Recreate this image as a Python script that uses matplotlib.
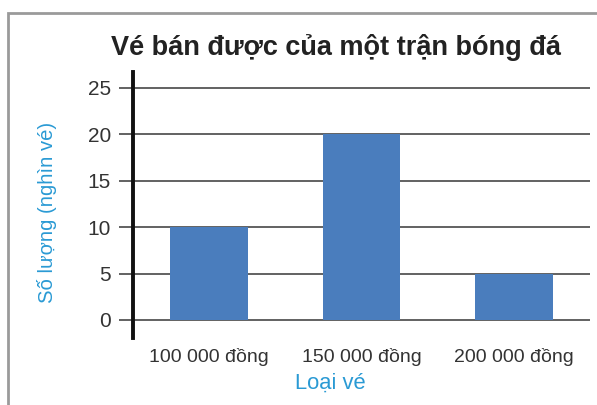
import matplotlib
matplotlib.use("Agg")
import matplotlib.pyplot as plt
from matplotlib.patches import Rectangle

categories = ["100 000 đồng", "150 000 đồng", "200 000 đồng"]
values = [10, 20, 5]
yticks = [0, 5, 10, 15, 20, 25]

plt.rcParams["font.family"] = ["Liberation Sans", "DejaVu Sans"]

W, H = 597, 405
fig = plt.figure(figsize=(W / 100, H / 100), dpi=100)
fig.patch.set_facecolor("white")

# outer frame (open at the right and bottom edges)
fig.add_artist(Rectangle((8 / W, -0.05), 1.2, 1 - 13 / H + 0.05,
                         transform=fig.transFigure, fill=False,
                         edgecolor="#9a9a9a", linewidth=2.0))

left, right, top, bottom = 133, 590, 72, 338
ax = fig.add_axes([left / W, 1 - bottom / H, (right - left) / W, (bottom - top) / H])
x = list(range(len(categories)))
ax.bar(x, values, width=0.51, color="#4a7dbd", zorder=3)

ax.set_xlim(-0.5, 2.5)
ax.set_ylim(-1.94, 26.72)
ax.set_yticks(yticks)
ax.set_yticklabels([str(t) for t in yticks], fontsize=15, color="#333333")
for t in yticks:
    ax.axhline(t, color="#555555", linewidth=1.3, zorder=1)
ax.tick_params(axis="y", direction="out", length=10, width=1.3,
               color="#555555", pad=6)
ax.set_xticks(x)
ax.set_xticklabels(categories, fontsize=14, color="#333333")
ax.tick_params(axis="x", length=0, pad=7)

for s in ["top", "right", "bottom"]:
    ax.spines[s].set_visible(False)
ax.spines["left"].set_linewidth(2.8)
ax.spines["left"].set_color("#111111")

ax.set_ylabel("Số lượng (nghìn vé)", fontsize=14.6, color="#2a9ad4")
ax.yaxis.set_label_coords((57 - left) / (right - left), (bottom - 212) / (bottom - top))
ax.set_xlabel("Loại vé", fontsize=15.8, color="#2a9ad4")
ax.xaxis.set_label_coords((330 - left) / (right - left), (bottom - 373) / (bottom - top))

fig.text(336 / W, 1 - 55 / H, "Vé bán được của một trận bóng đá",
         ha="center", va="baseline", fontsize=19.5, fontweight="bold", color="#222222")

fig.savefig("out.png", dpi=100)
